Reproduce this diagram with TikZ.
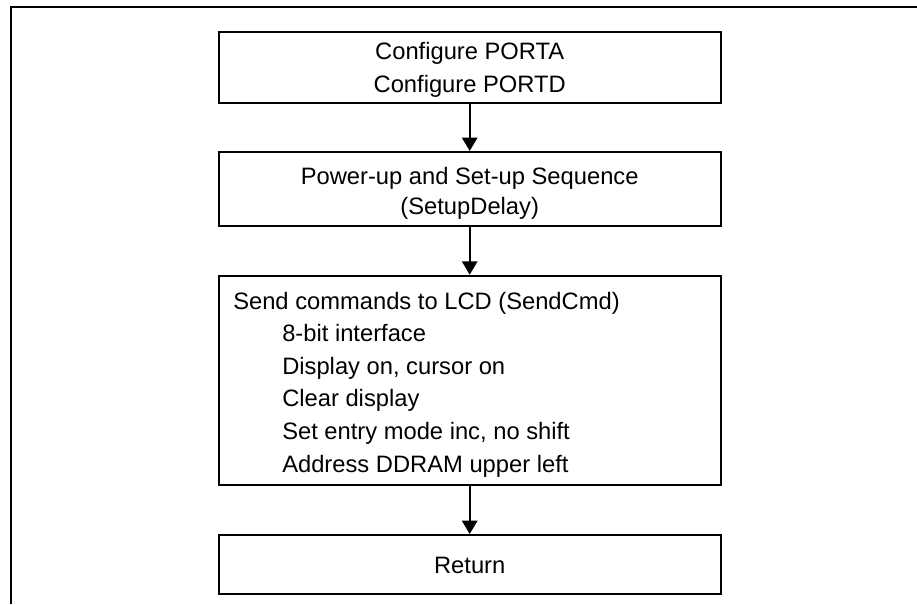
\documentclass[tikz,border=0pt]{standalone}
\usepackage{fontspec}
\setmainfont{Liberation Sans}
\usetikzlibrary{arrows.meta}
\begin{document}
\begin{tikzpicture}[x=0.75pt,y=-0.75pt,
  box/.style={draw,line width=1.5pt,minimum width=376.5pt,inner sep=0pt},
  txt/.style={inner sep=0pt,anchor=base,font=\fontsize{17.8}{24.4}\selectfont},
  ltxt/.style={txt,anchor=base west},
  arr/.style={line width=1.4pt,-{Triangle[width=11.5pt,length=10pt]}},
  frameline/.style={line width=0.8pt}]
\useasboundingbox (0,0) rectangle (917,604);
\coordinate (fbl) at (11,604);
\coordinate (ftl) at (11,7);
\coordinate (ftr) at (917,7);
\draw[frameline] (fbl) -- (ftl) -- (ftr);
% boxes
\node[box,minimum height=53.5pt] (b1) at (469.7,67.35) {};
\node[box,minimum height=55.3pt] (b2) at (469.7,188.85) {};
\node[box,minimum height=157pt] (b3) at (469.7,380.35) {};
\node[box,minimum height=44.25pt] (b4) at (469.7,564.5) {};
% texts
\node[txt] (t11) at (469.7,59.5) {Configure PORTA};
\node[txt] (t12) at (469.7,92.5) {Configure PORTD};
\node[txt] (t21) at (469.7,184.5) {Power-up and Set-up Sequence};
\node[txt] (t22) at (469.7,214.5) {(SetupDelay)};
\node[ltxt] (t31) at (233,309) {Send commands to LCD (SendCmd)};
\node[ltxt] (t32) at (282,341.6) {8-bit interface};
\node[ltxt] (t33) at (282,374.2) {Display on, cursor on};
\node[ltxt] (t34) at (282,406.8) {Clear display};
\node[ltxt] (t35) at (282,439.4) {Set entry mode inc, no shift};
\node[ltxt] (t36) at (282,472) {Address DDRAM upper left};
\node[txt] (t41) at (469.7,573) {Return};
% arrows
\draw[arr] (b1) -- (b2);
\draw[arr] (b2) -- (b3);
\draw[arr] (b3) -- (b4);
\end{tikzpicture}
\end{document}
